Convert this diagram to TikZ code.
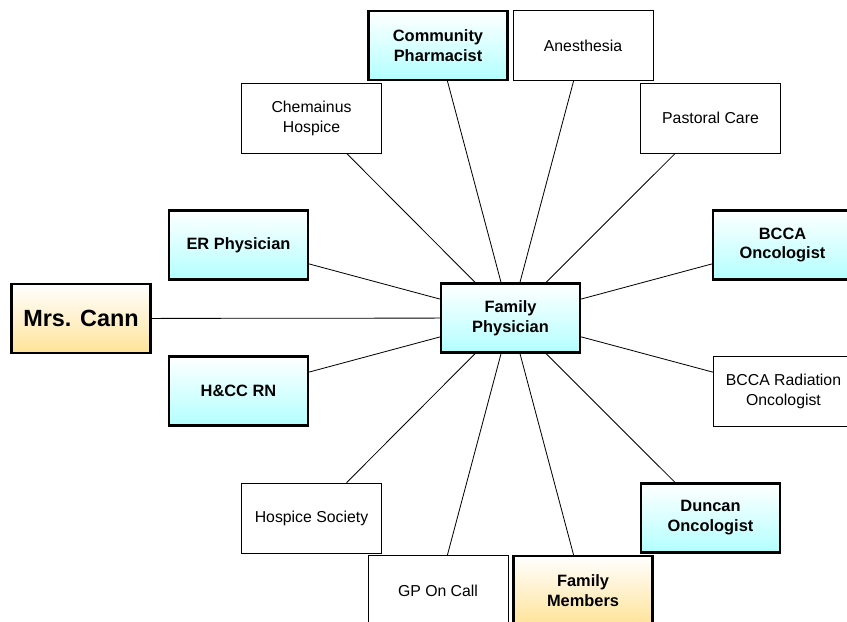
\documentclass[tikz,border=0pt]{standalone}
\usepackage{fontspec}
\setmainfont{Liberation Sans}
\begin{document}
\begin{tikzpicture}[
  x=0.03cm, y=-0.03cm,
  key/.style={rectangle, draw=black, line width=2pt, top color=white,
              bottom color=cyan!30, align=center, font=\fontsize{14}{17}\selectfont\bfseries,
              minimum width=4.17cm, minimum height=2.07cm, inner sep=2pt},
  fam/.style={rectangle, draw=black, line width=2pt, top color=white,
              bottom color=yellow!45!orange!40, align=center, font=\fontsize{14}{17}\selectfont\bfseries,
              minimum width=4.17cm, minimum height=2.07cm, inner sep=2pt},
  other/.style={rectangle, draw=black, line width=0.6pt, fill=white,
                align=center, font=\fontsize{13.5}{17}\selectfont,
                minimum width=4.2cm, minimum height=2.1cm, inner sep=2pt},
  link/.style={line width=0.7pt, black},
]
\clip (0,0) rectangle (847,622);

% Centre
\node[key] (FP) at (510.5,318) {Family\\Physician};
\node[fam, font=\fontsize{20}{24}\selectfont\bfseries] (MC) at (81,318.5) {Mrs. Cann};

% Top row
\node[key]   (CP) at (438,45.5)  {Community\\Pharmacist};
\node[other] (AN) at (583,45.5)  {Anesthesia};
\node[other] (CH) at (311.5,118) {Chemainus\\Hospice};
\node[other] (PC) at (710.5,118) {Pastoral Care};

% Middle rows
\node[key]   (ER) at (238.5,245) {ER Physician};
\node[key]   (BO) at (782.5,245) {BCCA\\Oncologist};
\node[key]   (RN) at (238.5,391) {H\&CC RN};
\node[other] (BR) at (783.5,391) {BCCA Radiation\\Oncologist};

% Bottom rows
\node[other] (HS) at (311.5,518) {Hospice Society};
\node[key]   (DO) at (710.5,518) {Duncan\\Oncologist};
\node[other] (GP) at (438,590.5) {GP On Call};
\node[fam]   (FM) at (583,590.5) {Family\\Members};

% Links
\draw[link] (MC) -- (FP);
\foreach \n in {CP,AN,CH,PC,ER,BO,RN,BR,HS,DO,GP,FM}
  \draw[link] (FP) -- (\n);

\end{tikzpicture}
\end{document}
